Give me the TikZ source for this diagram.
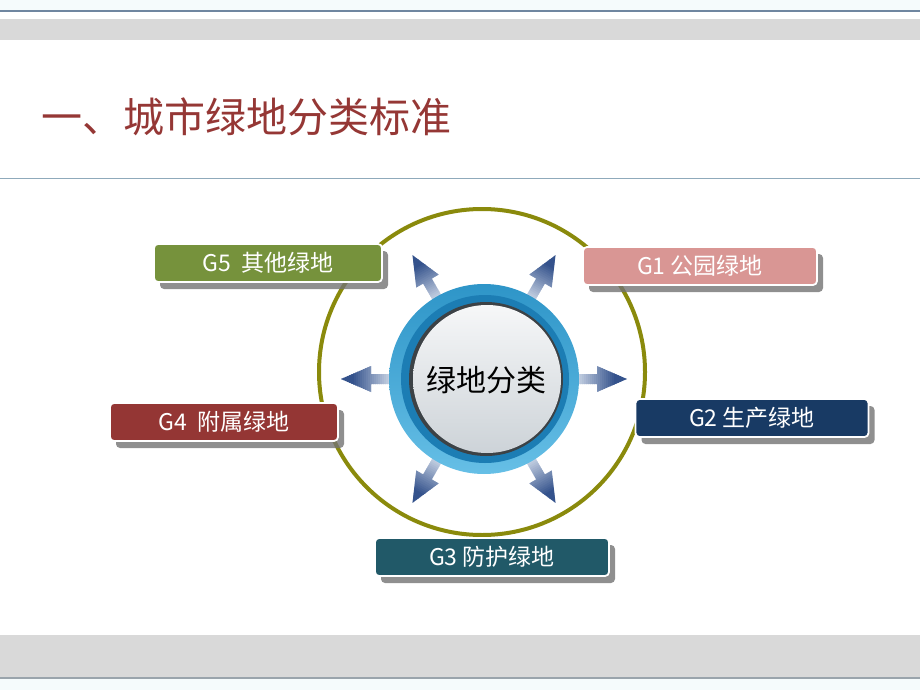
\documentclass[tikz,border=0pt]{standalone}
\usepackage{fontspec}
\setmainfont{Noto Sans CJK SC}
\usetikzlibrary{shadows}
\definecolor{pale}{HTML}{F5FBFC}
\definecolor{topline}{HTML}{6F86A0}
\definecolor{band}{HTML}{D9D9D9}
\definecolor{midline}{HTML}{8FAABB}
\definecolor{botline}{HTML}{9AA4AC}
\definecolor{titlered}{HTML}{953735}
\definecolor{olive}{RGB}{138,138,12}
\definecolor{cGfive}{HTML}{76923C}
\definecolor{cGone}{HTML}{D99694}
\definecolor{cGtwo}{HTML}{183A64}
\definecolor{cGfour}{HTML}{943634}
\definecolor{cGthree}{HTML}{215968}
\definecolor{arrL}{HTML}{D2DCEA}
\definecolor{arrD}{HTML}{34528C}
\definecolor{ringA}{HTML}{2E95C8}
\definecolor{ringB}{HTML}{66BFE6}
\definecolor{ringDark}{HTML}{1C7DB4}
\definecolor{rim}{HTML}{3C4246}
\definecolor{diskA}{HTML}{F6F7F8}
\definecolor{diskB}{HTML}{CDD3D8}
\tikzset{
  gbox/.style={rounded corners=4pt, draw=white, line width=1.8pt, inner sep=0pt,
    minimum height=38pt, text=white, font=\fontsize{23}{26}\selectfont,
    drop shadow={shadow xshift=6pt, shadow yshift=-7pt, fill=black!55, opacity=0.8}},
}
\begin{document}
\begin{tikzpicture}[x=1pt,y=1pt]
\useasboundingbox (0,0) rectangle (920,-690);
% background bands
\fill[pale] (0,0) rectangle (920,-10);
\draw[topline, line width=1.5pt] (0,-11) -- (920,-11);
\fill[band] (0,-19) rectangle (920,-40);
\draw[midline, line width=0.8pt] (0,-178) -- (920,-178);
\fill[band] (0,-635) rectangle (920,-677);
\draw[botline, line width=1.2pt] (0,-678) -- (920,-678);
\fill[pale] (0,-679) rectangle (920,-690);
% title
\node[anchor=west, text=titlered, font=\fontsize{41}{44}\selectfont, inner sep=0pt] (title) at (41,-117) {一、城市绿地分类标准};
% big olive circle
\coordinate (oc) at (482,-372);
\draw[olive, line width=4pt] (oc) circle (163);
% arrows (gradient built from strips, light at base, dark at tip)
\coordinate (c) at (484,-379);
\foreach \a in {0,60,120,180,240,300}{
  \begin{scope}[shift={(c)}, rotate=\a]
    \clip (90,-5) -- (113,-5) -- (113,-13) -- (143,0) -- (113,13) -- (113,5) -- (90,5) -- cycle;
    \foreach \i in {0,...,27}{
      \pgfmathsetmacro{\p}{min(100,\i*5)}
      \fill[arrD!\p!arrL] ({90+\i*2},-14) rectangle ({92.6+\i*2},14);
    }
  \end{scope}
}
% ring
\shade[top color=ringA, bottom color=ringB] (c) circle (95);
\fill[ringDark] ([xshift=1pt]c) circle (84);
\fill[rim] ([xshift=2pt]c) circle (77);
\shade[top color=diskA, bottom color=diskB] ([xshift=3pt]c) circle (74);
\node[font=\fontsize{30}{32}\selectfont, text=black] (center) at ([xshift=2pt,yshift=-1pt]c) {绿地分类};
% boxes
\node[gbox, fill=cGfive, minimum width=228pt] (g5) at (268,-263) {G5\ \ 其他绿地};
\node[gbox, fill=cGone, minimum width=234pt] (g1) at (700,-266) {G1 公园绿地};
\node[gbox, fill=cGtwo, minimum width=233pt] (g2) at (752,-418) {G2 生产绿地};
\node[gbox, fill=cGfour, minimum width=228pt] (g4) at (224,-422) {G4\ \ 附属绿地};
\node[gbox, fill=cGthree, minimum width=234pt] (g3) at (492,-557) {G3 防护绿地};
\end{tikzpicture}
\end{document}
